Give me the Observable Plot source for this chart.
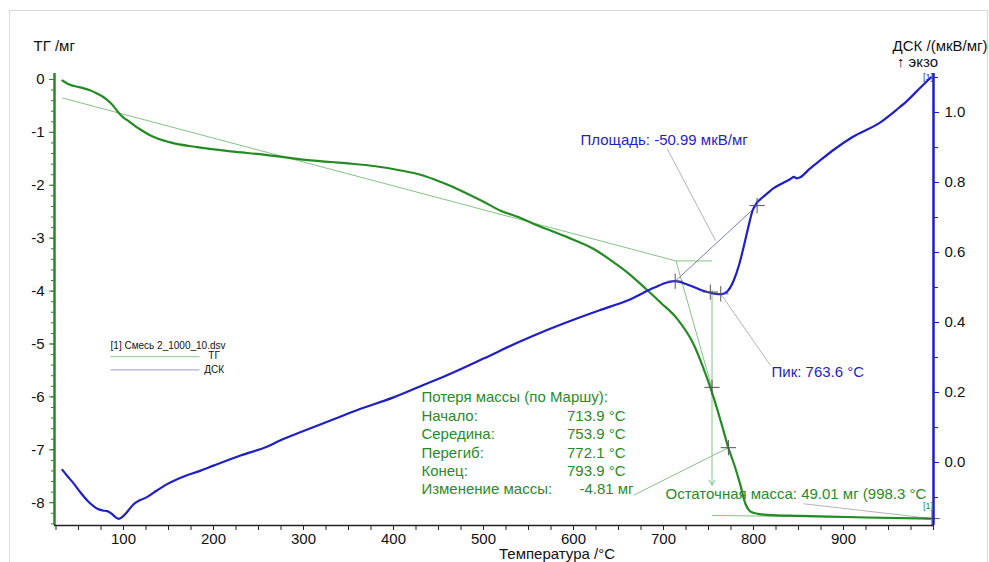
<!DOCTYPE html>
<html><head><meta charset="utf-8">
<script src="https://cdn.jsdelivr.net/npm/d3@7"></script>
<script src="https://cdn.jsdelivr.net/npm/@observablehq/plot@0.6"></script>
<style>
body{margin:0;background:#fff;}
#wrap{position:relative;width:989px;height:562px;overflow:hidden;background:#fff;}
#border{position:absolute;left:9px;top:10px;width:979px;height:600px;border:1px solid #d9d9d9;box-sizing:border-box;pointer-events:none}
</style></head><body><div id="wrap"><div id="chart"></div><div id="border"></div></div>
<script>
// ---- data ----
const tgT = [32,39,52,62,71,80,86,91,95,100,106,113,120,130,152,182,219,256,297,330,352,380,408,430,444,463,482,500,519,540,556,575,593,622,640,660,680,697,715,733,744,752,760,766,772,778,785,791,797,805,815,852,926,997];
const tgV = [-0.02,-0.09,-0.15,-0.20,-0.27,-0.36,-0.45,-0.55,-0.64,-0.72,-0.79,-0.88,-0.96,-1.06,-1.19,-1.28,-1.36,-1.42,-1.51,-1.56,-1.59,-1.64,-1.72,-1.80,-1.88,-2.01,-2.16,-2.31,-2.48,-2.61,-2.73,-2.86,-2.98,-3.20,-3.40,-3.65,-3.95,-4.22,-4.52,-4.99,-5.44,-5.82,-6.25,-6.60,-6.96,-7.25,-7.64,-8.02,-8.17,-8.21,-8.23,-8.25,-8.28,-8.30];

const dscT = [32,38,45,52,60,66,71,77,82,87,91,95,99,102,106,111,118,126,137,149,167,185,200,230,260,274,300,330,360,400,430,460,500,540,570,600,630,660,690,705,713,725,735,745,752,758,763.6,770,778,784,789,794,799,804,808,815,822,830,841,845,848,852,862,874,890,910,941,960,971,985,997];
const dscV = [-0.021,-0.04,-0.061,-0.085,-0.109,-0.123,-0.132,-0.137,-0.139,-0.147,-0.156,-0.161,-0.155,-0.147,-0.135,-0.12,-0.108,-0.099,-0.080,-0.061,-0.040,-0.024,-0.009,0.020,0.046,0.063,0.090,0.120,0.150,0.186,0.218,0.250,0.297,0.345,0.378,0.408,0.436,0.463,0.500,0.515,0.518,0.51,0.50,0.49,0.485,0.482,0.481,0.487,0.52,0.565,0.615,0.67,0.72,0.743,0.753,0.768,0.783,0.795,0.81,0.816,0.812,0.815,0.838,0.863,0.895,0.93,0.972,1.01,1.034,1.07,1.10];

const xMajor = [100,200,300,400,500,600,700,800,900];
const xMinor = d3.range(25, 1001, 25);
const tgMajor = [0,-1,-2,-3,-4,-5,-6,-7,-8];
const tgMinor = d3.range(0, -8.41, -0.2);
const dscMajor = [0.0,0.2,0.4,0.6,0.8,1.0];
const dscMinor = d3.range(-0.1, 1.101, 0.1);

// annotation geometry (data units): TG lines in mg, DSC lines in µV/mg
const tgGuides = [
  {x1:32, y1:-0.35, x2:713.9, y2:-3.43},
  {x1:713.9, y1:-3.43, x2:753.9, y2:-3.43},
  {x1:713.9, y1:-3.43, x2:753.9, y2:-5.84},
  {x1:753.9, y1:-8.24, x2:997, y2:-8.30},
  {x1:666.7, y1:-7.86, x2:772.1, y2:-6.96}
];
const tgLeaders = [
  {x1:855.6, y1:-8.02, x2:998.3, y2:-8.30}
];
const stepArrow = [{x:753.9, y1:-3.98, y2:-7.67}];
const dscBase = [{x1:713, y1:0.518, x2:804, y2:0.734}];
const dscLeaders = [
  {x1:704, y1:0.897, x2:757.8, y2:0.634},
  {x1:763.6, y1:0.482, x2:818.9, y2:0.277}
];
const tgMarks = [{x:753.9,y:-5.82},{x:772.1,y:-6.96},{x:998.3,y:-8.30}];
const dscMarks = [{x:713,y:0.518},{x:752,y:0.487},{x:763.6,y:0.482},{x:804,y:0.734}];

const lossLabels = ["Начало:", "Середина:", "Перегиб:", "Конец:", "Изменение массы:"];
const lossValues = ["713.9 °C", "753.9 °C", "772.1 °C", "793.9 °C", "-4.81 мг"];
const lossRowY = [-6.37, -6.71, -7.07, -7.41, -7.75];

// ---- scales ----
const tgDomain = [-8.431, 0.113];
const dscDomain = [-0.18, 1.1114];
const d2tg = d => tgDomain[0] + (d - dscDomain[0]) / (dscDomain[1] - dscDomain[0]) * (tgDomain[1] - tgDomain[0]);
const tg2d = t => dscDomain[0] + (t - tgDomain[0]) / (tgDomain[1] - tgDomain[0]) * (dscDomain[1] - dscDomain[0]);

const tgRows = tgT.map((t,i)=>({T:t, v:tgV[i]}));
const dscRows = dscT.map((t,i)=>({T:t, v:d2tg(dscV[i])}));

const GREEN = "#238b23", BLUE = "#1f1fc4", TXTG = "#2a8a2a", LG = "#86c286", GR = "#b4b4b4";
const FONT = "'Liberation Sans', Arial, sans-serif";

const chart = Plot.plot({
  width: 989, height: 562,
  marginLeft: 54, marginRight: 56, marginTop: 73, marginBottom: 37,
  style: {fontFamily: FONT, fontSize: "15px", background: "white", overflow: "visible"},
  x: {domain: [23.33, 1000], label: null},
  y: {domain: tgDomain, label: null},
  marks: [
    // guide lines
    Plot.link(tgGuides, {x1:"x1", y1:"y1", x2:"x2", y2:"y2", stroke: LG, strokeWidth: 1}),
    Plot.link(tgLeaders, {x1:"x1", y1:"y1", x2:"x2", y2:"y2", stroke: GR, strokeWidth: 1}),
    Plot.arrow(stepArrow, {x1:"x", y1:"y1", x2:"x", y2:"y2", stroke: LG, strokeWidth: 1, headLength: 9}),
    Plot.link(dscBase, {x1:"x1", y1: d=>d2tg(d.y1), x2:"x2", y2: d=>d2tg(d.y2), stroke: "#7a7ab4", strokeWidth: 1}),
    Plot.link(dscLeaders, {x1:"x1", y1: d=>d2tg(d.y1), x2:"x2", y2: d=>d2tg(d.y2), stroke: GR, strokeWidth: 1}),
    // curves
    Plot.line(tgRows, {x:"T", y:"v", stroke: GREEN, strokeWidth: 2.2, curve: "monotone-x"}),
    Plot.line(dscRows, {x:"T", y:"v", stroke: BLUE, strokeWidth: 2.2, curve: "monotone-x"}),
    // markers
    Plot.dot(tgMarks, {x:"x", y:"y", symbol:"plus", r: 5, stroke:"#555", strokeWidth: 1}),
    Plot.dot(dscMarks, {x:"x", y: d=>d2tg(d.y), symbol:"plus", r: 5, stroke:"#555", strokeWidth: 1}),
    // axis lines
    Plot.ruleX([23.33], {stroke: GREEN, strokeWidth: 2.5}),
    Plot.ruleX([1000], {stroke: BLUE, strokeWidth: 2.5}),
    Plot.ruleY([tgDomain[0]], {stroke: "#222", strokeWidth: 1.5}),
    // axes
    Plot.axisX({anchor:"bottom", ticks: xMinor, tickSize: 5, tickFormat: () => "", stroke: "#222", label: null}),
    Plot.axisX({anchor:"bottom", ticks: xMajor, tickSize: 5, tickPadding: 3, tickFormat: d => String(d), stroke: "#222", fill: "#111", fontSize: 15, label: null}),
    Plot.axisY({anchor:"left", ticks: tgMinor, tickSize: 3, tickFormat: () => "", stroke: GREEN, label: null}),
    Plot.axisY({anchor:"left", ticks: tgMajor, tickSize: 5, tickPadding: 5, tickFormat: d => String(d), stroke: GREEN, fill: "#111", fontSize: 15, label: null}),
    Plot.axisY({anchor:"right", ticks: dscMinor.map(d2tg), tickSize: 4, tickFormat: () => "", stroke: BLUE, label: null}),
    Plot.axisY({anchor:"right", ticks: dscMajor.map(d2tg), tickSize: 5, tickPadding: 6, tickFormat: t => (Math.round(tg2d(t)*10)/10).toFixed(1), stroke: BLUE, fill: "#111", fontSize: 15, label: null}),
    // axis titles
    Plot.text(["ТГ /мг"], {frameAnchor:"top-left", dx:-21, dy:-27, textAnchor:"start", lineAnchor:"middle", fill:"#111", fontSize: 15}),
    Plot.text(["ДСК /(мкВ/мг)"], {frameAnchor:"top-right", dx:54, dy:-27, textAnchor:"end", lineAnchor:"middle", fill:"#111", fontSize: 15}),
    Plot.text(["↑ экзо"], {frameAnchor:"top-right", dx:-16, dy:-11, textAnchor:"middle", lineAnchor:"middle", fill:"#111", fontSize: 15}),
    Plot.text(["Температура /°C"], {frameAnchor:"bottom", dx:63, dy:29, textAnchor:"middle", lineAnchor:"middle", fill:"#111", fontSize: 15}),
    // annotations
    Plot.text(["Площадь: -50.99 мкВ/мг"], {x:607.8, y:d2tg(0.92), textAnchor:"start", fill: BLUE, fontSize: 15}),
    Plot.text(["Пик: 763.6 °C"], {x:820, y:d2tg(0.257), textAnchor:"start", fill: BLUE, fontSize: 15}),
    Plot.text(["Потеря массы (по Маршу):"], {x:431, y:-6.01, textAnchor:"start", fill: TXTG, fontSize: 15}),
    Plot.text(lossLabels, {x:431, y:(d,i)=>lossRowY[i], text: d=>d, textAnchor:"start", fill: TXTG, fontSize: 15}),
    Plot.text(lossValues, {x:(d,i)=> i===4 ? 666.7 : 657.8, y:(d,i)=>lossRowY[i], text: d=>d, textAnchor:"end", fill: TXTG, fontSize: 15}),
    Plot.text(["Остаточная масса: 49.01 мг (998.3 °C"], {x:702.2, y:-7.84, textAnchor:"start", fill: TXTG, fontSize: 15}),
    Plot.text(["[1]"], {x:994, y:-8.07, textAnchor:"middle", fill: TXTG, fontSize: 9}),
    Plot.text(["[1]"], {x:994, y:d2tg(1.1), textAnchor:"middle", fill: BLUE, fontSize: 9}),
    // legend
    Plot.text(["[1] Смесь 2_1000_10.dsv"], {x:85.6, y:-5.03, textAnchor:"start", fill:"#111", fontSize: 10}),
    Plot.link([{x1:85.6, x2:184.4, y:-5.24}], {x1:"x1", x2:"x2", y1:"y", y2:"y", stroke: "#8cc68c", strokeWidth: 1}),
    Plot.link([{x1:85.6, x2:184.4, y:-5.49}], {x1:"x1", x2:"x2", y1:"y", y2:"y", stroke: "#9a9ad0", strokeWidth: 1}),
    Plot.text(["ТГ"], {x:200.6, y:-5.22, textAnchor:"middle", fill:"#111", fontSize: 10}),
    Plot.text(["ДСК"], {x:200.6, y:-5.48, textAnchor:"middle", fill:"#111", fontSize: 10})
  ]
});
document.getElementById("chart").appendChild(chart);
</script>
</body></html>
